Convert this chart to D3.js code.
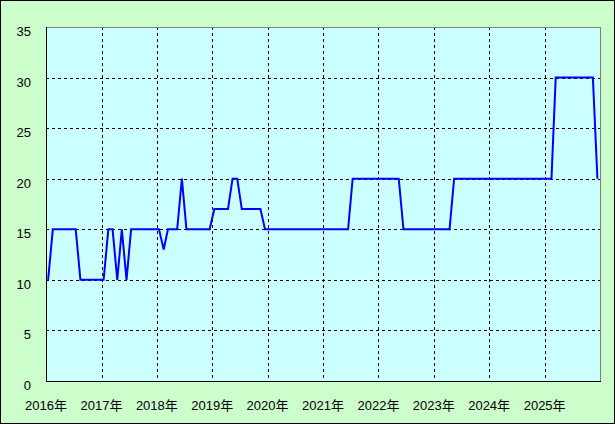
<!DOCTYPE html>
<html>
<head>
<meta charset="utf-8">
<script src="https://cdn.jsdelivr.net/npm/d3@7"></script>
<style>
  body { margin: 0; }
  text { font-family: "Liberation Sans", "Noto Sans CJK JP", sans-serif; font-size: 13px; fill: #000; }
</style>
</head>
<body>
<svg></svg>
<script>
// years on the axis and their labels
var years = [2016, 2017, 2018, 2019, 2020, 2021, 2022, 2023, 2024, 2025];
var yearLabels = ["2016年", "2017年", "2018年", "2019年", "2020年",
                  "2021年", "2022年", "2023年", "2024年", "2025年"];
var yTicks = [0, 5, 10, 15, 20, 25, 30, 35];

// one value per month, Jan 2016 .. Dec 2025
var values = [
  10, 15, 15, 15, 15, 15, 15, 10, 10, 10, 10, 10,   // 2016
  10, 15, 15, 10, 15, 10, 15, 15, 15, 15, 15, 15,   // 2017
  15, 13, 15, 15, 15, 20, 15, 15, 15, 15, 15, 15,   // 2018
  17, 17, 17, 17, 20, 20, 17, 17, 17, 17, 17, 15,   // 2019
  15, 15, 15, 15, 15, 15, 15, 15, 15, 15, 15, 15,   // 2020
  15, 15, 15, 15, 15, 15, 20, 20, 20, 20, 20, 20,   // 2021
  20, 20, 20, 20, 20, 15, 15, 15, 15, 15, 15, 15,   // 2022
  15, 15, 15, 15, 20, 20, 20, 20, 20, 20, 20, 20,   // 2023
  20, 20, 20, 20, 20, 20, 20, 20, 20, 20, 20, 20,   // 2024
  20, 20, 30, 30, 30, 30, 30, 30, 30, 30, 30, 20    // 2025
];

var screen = {width: 615, height: 424};
var plot = {left: 46, top: 27, right: 600, bottom: 381};

var svg = d3.select("svg")
  .attr("width", screen.width)
  .attr("height", screen.height);

// outer background
svg.append("rect")
  .attr("x", 0.5).attr("y", 0.5)
  .attr("width", screen.width - 1).attr("height", screen.height - 1)
  .attr("fill", "#ccffcc")
  .attr("stroke", "#000");

var xScale = d3.scaleTime()
  .domain([new Date(years[0], 0, 1), new Date(years[years.length - 1] + 1, 0, 1)])
  .range([plot.left, plot.right]);

var yScale = d3.scaleLinear()
  .domain([0, 35])
  .range([plot.bottom, plot.top]);

// plot area
svg.append("rect")
  .attr("x", plot.left).attr("y", plot.top)
  .attr("width", plot.right - plot.left).attr("height", plot.bottom - plot.top)
  .attr("fill", "#ccffff");

var grid = svg.append("g")
  .attr("stroke", "#000")
  .attr("stroke-dasharray", "3,3")
  .attr("shape-rendering", "crispEdges");

grid.selectAll(".vgrid")
  .data(years.slice(1))
  .enter()
  .append("line")
  .attr("x1", function(y) { return Math.round(xScale(new Date(y, 0, 1))) + 0.5; })
  .attr("x2", function(y) { return Math.round(xScale(new Date(y, 0, 1))) + 0.5; })
  .attr("y1", plot.top)
  .attr("y2", plot.bottom);

grid.selectAll(".hgrid")
  .data(yTicks.slice(1, -1))
  .enter()
  .append("line")
  .attr("x1", plot.left)
  .attr("x2", plot.right)
  .attr("y1", function(v) { return Math.round(yScale(v)) + 0.5; })
  .attr("y2", function(v) { return Math.round(yScale(v)) + 0.5; });

// plot border: gray top/right, black axes
var border = svg.append("g").attr("shape-rendering", "crispEdges");
border.append("path")
  .attr("d", "M" + plot.left + "," + (plot.top + 0.5) + "H" + (plot.right + 0.5) + "V" + plot.bottom)
  .attr("fill", "none")
  .attr("stroke", "#808080");
border.append("path")
  .attr("d", "M" + (plot.left + 0.5) + "," + plot.top + "V" + (plot.bottom + 0.5) + "H" + (plot.right + 1))
  .attr("fill", "none")
  .attr("stroke", "#000");

// the series line, points at mid-month
var lineGenerator = d3.line()
  .x(function(v, i) { return xScale(new Date(years[0], i, 15)); })
  .y(function(v) { return yScale(v); });

svg.append("path")
  .datum(values)
  .attr("d", lineGenerator)
  .attr("fill", "none")
  .attr("stroke", "#0000ff")
  .attr("stroke-width", 2)
  .attr("stroke-linejoin", "miter");

// y labels
svg.append("g")
  .selectAll("text")
  .data(yTicks)
  .enter()
  .append("text")
  .attr("x", 31)
  .attr("y", function(v) { return yScale(v) + 9; })
  .attr("text-anchor", "end")
  .text(function(v) { return v; });

// x labels
svg.append("g")
  .selectAll("text")
  .data(years)
  .enter()
  .append("text")
  .attr("x", function(y) { return xScale(new Date(y, 0, 1)); })
  .attr("y", 410)
  .attr("text-anchor", "middle")
  .text(function(y, i) { return yearLabels[i]; });
</script>
</body>
</html>
